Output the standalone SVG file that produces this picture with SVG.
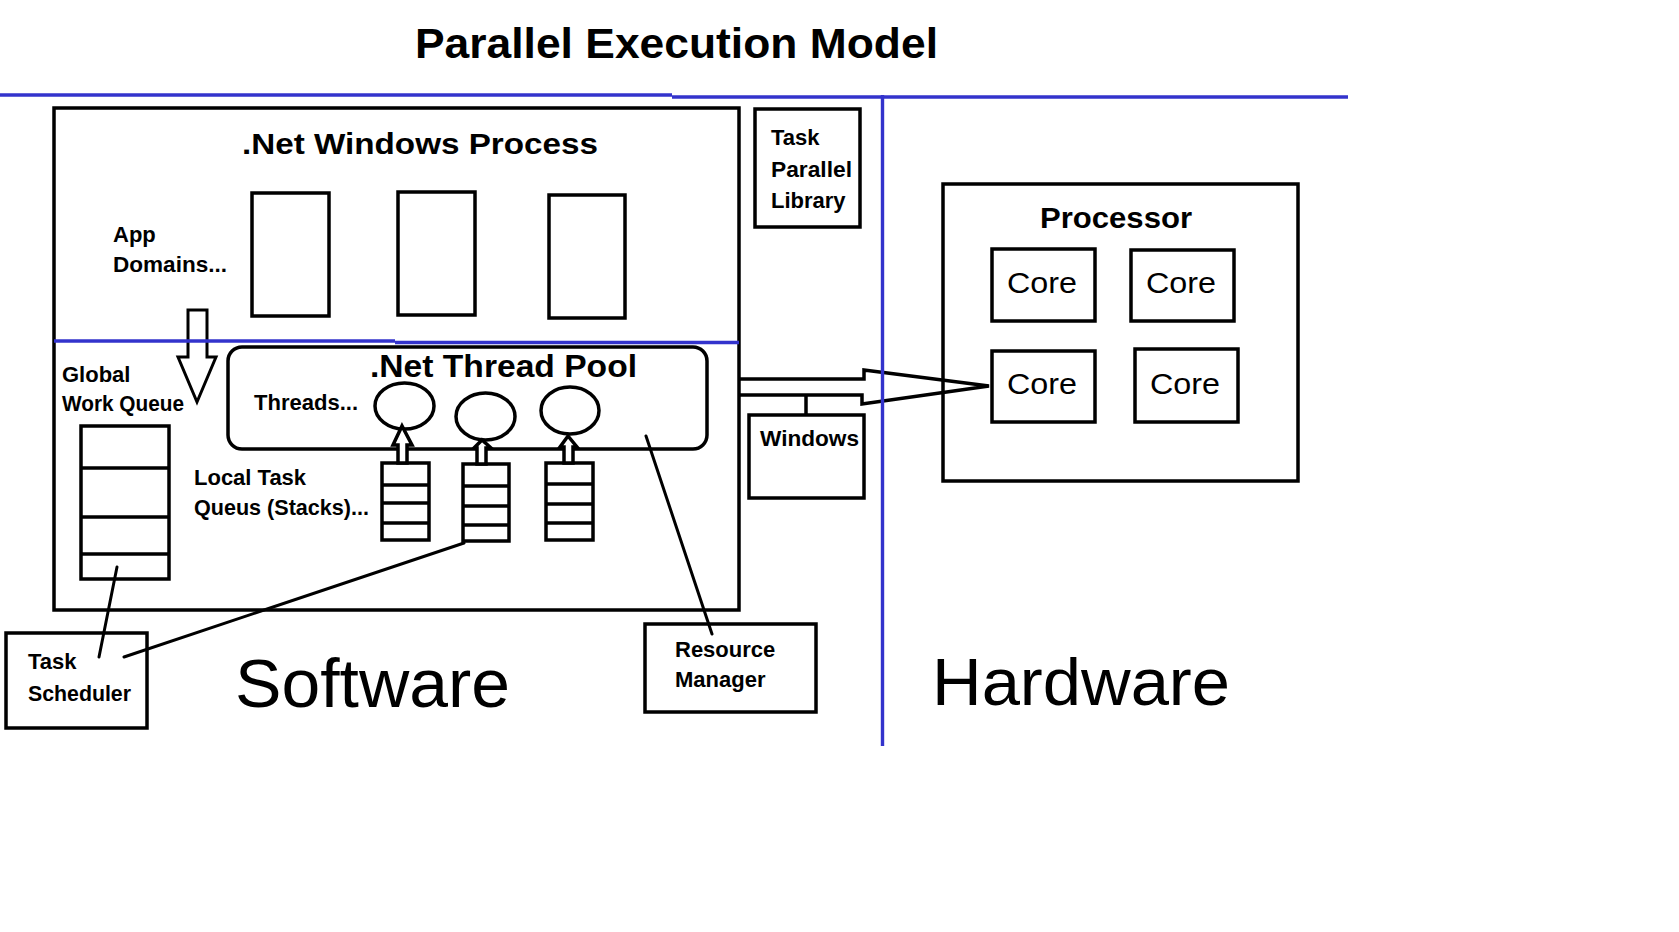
<svg xmlns="http://www.w3.org/2000/svg" width="1679" height="932" viewBox="0 0 1679 932">
<style>
  .box { fill: none; stroke: #000; stroke-width: 3.5; }
  .wbox { fill: #fff; stroke: #000; stroke-width: 3.5; }
  .ln { fill: none; stroke: #000; stroke-width: 3; stroke-linecap: round; }
  .blue { fill: none; stroke: #3333cc; stroke-width: 3.4; }
  .b { font-family: "Liberation Sans", Arial, sans-serif; font-weight: bold; fill: #000; }
  .r { font-family: "Liberation Sans", Arial, sans-serif; font-weight: normal; fill: #000; }
  .lbl { font-size: 22px; }
</style>
<rect width="1679" height="932" fill="#fff"/>

<g id="title">
  <text class="b" x="415" y="58" font-size="42" textLength="523" lengthAdjust="spacingAndGlyphs">Parallel Execution Model</text>
</g>

<g id="process">
  <rect class="box" x="54" y="108" width="685" height="502"/>
  <text class="b" x="242" y="154" font-size="30" textLength="356" lengthAdjust="spacingAndGlyphs">.Net Windows Process</text>
</g>

<g id="app-domains">
  <text class="b lbl" x="113" y="242">App</text>
  <text class="b lbl" x="113" y="272" textLength="114" lengthAdjust="spacingAndGlyphs">Domains...</text>
  <rect class="box" x="252" y="193" width="77" height="123"/>
  <rect class="box" x="398" y="192" width="77" height="123"/>
  <rect class="box" x="549" y="195" width="76" height="123"/>
</g>

<g id="global-work-queue">
  <text class="b lbl" x="62" y="382">Global</text>
  <text class="b lbl" x="62" y="411" textLength="122" lengthAdjust="spacingAndGlyphs">Work Queue</text>
  <rect class="box" x="81" y="426" width="88" height="153"/>
  <line class="box" x1="81" y1="468" x2="169" y2="468"/>
  <line class="box" x1="81" y1="517" x2="169" y2="517"/>
  <line class="box" x1="81" y1="554" x2="169" y2="554"/>
</g>

<g id="thread-pool">
  <rect class="box" x="228" y="347" width="479" height="102" rx="14" ry="14"/>
  <text class="b" x="370" y="377" font-size="32" textLength="267" lengthAdjust="spacingAndGlyphs">.Net Thread Pool</text>
  <text class="b lbl" x="254" y="410" textLength="104" lengthAdjust="spacingAndGlyphs">Threads...</text>
  <ellipse class="wbox" cx="404.5" cy="406" rx="29.5" ry="23"/>
  <ellipse class="wbox" cx="485.5" cy="416.5" rx="29.5" ry="23.5"/>
  <ellipse class="wbox" cx="570" cy="410.5" rx="29" ry="23.5"/>
</g>

<g id="local-task-queues">
  <text class="b lbl" x="194" y="485">Local Task</text>
  <text class="b lbl" x="194" y="515" textLength="175" lengthAdjust="spacingAndGlyphs">Queus (Stacks)...</text>
  <rect class="box" x="382" y="463" width="47" height="77"/>
  <line class="box" x1="382" y1="485" x2="429" y2="485"/>
  <line class="box" x1="382" y1="503" x2="429" y2="503"/>
  <line class="box" x1="382" y1="523" x2="429" y2="523"/>
  <rect class="box" x="463" y="464" width="46" height="77"/>
  <line class="box" x1="463" y1="486" x2="509" y2="486"/>
  <line class="box" x1="463" y1="506" x2="509" y2="506"/>
  <line class="box" x1="463" y1="525" x2="509" y2="525"/>
  <rect class="box" x="546" y="463" width="47" height="77"/>
  <line class="box" x1="546" y1="484" x2="593" y2="484"/>
  <line class="box" x1="546" y1="504" x2="593" y2="504"/>
  <line class="box" x1="546" y1="523" x2="593" y2="523"/>
</g>

<g id="task-scheduler">
  <rect class="box" x="6" y="633" width="141" height="95"/>
  <text class="b lbl" x="28" y="669">Task</text>
  <text class="b lbl" x="28" y="701" textLength="103" lengthAdjust="spacingAndGlyphs">Scheduler</text>
</g>

<g id="resource-manager">
  <rect class="box" x="645" y="624" width="171" height="88"/>
  <text class="b lbl" x="675" y="657">Resource</text>
  <text class="b lbl" x="675" y="687">Manager</text>
</g>

<g id="task-parallel-library">
  <rect class="box" x="755" y="109" width="105" height="118"/>
  <text class="b lbl" x="771" y="145">Task</text>
  <text class="b lbl" x="771" y="177" textLength="81" lengthAdjust="spacingAndGlyphs">Parallel</text>
  <text class="b lbl" x="771" y="208">Library</text>
</g>

<g id="windows">
  <rect class="box" x="749" y="415" width="115" height="83"/>
  <text class="b lbl" x="760" y="446" textLength="99" lengthAdjust="spacingAndGlyphs">Windows</text>
</g>

<g id="processor">
  <rect class="box" x="943" y="184" width="355" height="297"/>
  <text class="b" x="1040" y="228" font-size="30" textLength="152" lengthAdjust="spacingAndGlyphs">Processor</text>
</g>
<g id="core-1">
  <rect class="box" x="992" y="249" width="103" height="72"/>
  <text class="r" x="1007" y="293" font-size="30" textLength="70" lengthAdjust="spacingAndGlyphs">Core</text>
</g>
<g id="core-2">
  <rect class="box" x="1131" y="250" width="103" height="71"/>
  <text class="r" x="1146" y="293" font-size="30" textLength="70" lengthAdjust="spacingAndGlyphs">Core</text>
</g>
<g id="core-3">
  <rect class="box" x="992" y="351" width="103" height="71"/>
  <text class="r" x="1007" y="394" font-size="30" textLength="70" lengthAdjust="spacingAndGlyphs">Core</text>
</g>
<g id="core-4">
  <rect class="box" x="1135" y="349" width="103" height="73"/>
  <text class="r" x="1150" y="394" font-size="30" textLength="70" lengthAdjust="spacingAndGlyphs">Core</text>
</g>

<g id="section-labels">
  <text class="r" x="235" y="707" font-size="68" textLength="275" lengthAdjust="spacingAndGlyphs">Software</text>
  <text class="r" x="932" y="705" font-size="67" textLength="298" lengthAdjust="spacingAndGlyphs">Hardware</text>
</g>

<g id="connectors">
  <path class="ln" d="M188,310 L207,310 L207,357 L216,357 L197,402 L178,357 L188,357 Z" stroke-linejoin="miter"/>
  <path class="wbox" stroke-width="3" d="M398,463 L398,445 L393,445 L402,426 L412,445 L407,445 L407,463 Z"/>
  <path class="wbox" stroke-width="3" d="M477,464 L477,448 L474,448 L482,440 L491,448 L486,448 L486,464 Z"/>
  <path class="wbox" stroke-width="3" d="M564,463 L564,447 L560,447 L568,436 L577,447 L573,447 L573,463 Z"/>
  <line class="ln" x1="117" y1="567" x2="99" y2="657"/>
  <line class="ln" x1="464" y1="543" x2="124" y2="657"/>
  <line class="ln" x1="646" y1="436" x2="712" y2="634"/>
  <path class="box" d="M740,379 L864,379 L864,370 L989,386 L862,404 L862,395 L740,395"/>
  <line class="box" x1="806" y1="395" x2="806" y2="416"/>
</g>

<g id="dividers">
  <line class="blue" x1="0" y1="95" x2="672" y2="95"/>
  <line class="blue" x1="672" y1="97" x2="1348" y2="97"/>
  <line class="blue" x1="882.5" y1="95" x2="882.5" y2="746"/>
  <line class="blue" x1="54" y1="341" x2="395" y2="341"/>
  <line class="blue" x1="395" y1="342.5" x2="739" y2="342.5"/>
</g>
</svg>
